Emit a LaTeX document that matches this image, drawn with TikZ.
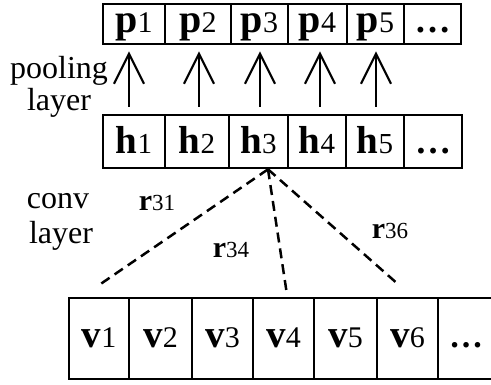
\documentclass[tikz,border=0pt]{standalone}
\usepackage{fontspec}
\setmainfont{Liberation Serif}
\usetikzlibrary{arrows.meta}

% bold symbol followed by a plain index, each at its own size
\newcommand\ent[4]{{\fontsize{#1pt}{#1pt}\selectfont\bfseries #3}{\fontsize{#2pt}{#2pt}\selectfont #4}}
\newcommand\pent[1]{\ent{40}{30}{p}{#1}}
\newcommand\hent[1]{\ent{39}{29}{h}{#1}}
\newcommand\vent[1]{\ent{39}{30}{v}{#1}}
\newcommand\rent[1]{\ent{30}{23}{r}{#1}}
\newcommand\moredots[1]{{\fontsize{#1pt}{#1pt}\selectfont\bfseries …}}

\tikzset{
  cell/.style={draw, line width=2.6pt, inner sep=0pt, anchor=center},
  prow/.style={cell, minimum height=40pt, text height=24pt, text depth=8pt},
  hrow/.style={cell, minimum height=53pt, text height=30pt, text depth=7pt},
  vrow/.style={cell, minimum height=81pt, text height=25pt, text depth=8pt},
  uparrow/.style={line width=2.2pt, -{Straight Barb[length=30pt, width=30pt, line width=2.2pt]}},
  conn/.style={line width=2.5pt, dash pattern=on 10pt off 6pt},
  side/.style={font=\fontsize{32pt}{32pt}\selectfont, anchor=base, inner sep=0pt},
  rlab/.style={anchor=base, inner sep=0pt},
}

\begin{document}
\begin{tikzpicture}[x=1pt, y=-1pt]
\useasboundingbox (0,0) rectangle (491,384);

% pooling outputs
\node[prow, minimum width=62pt] (p1) at (134,24)   {\pent{1}};
\node[prow, minimum width=66pt] (p2) at (198,24)   {\pent{2}};
\node[prow, minimum width=57pt] (p3) at (259.5,24) {\pent{3}};
\node[prow, minimum width=59pt] (p4) at (317.5,24) {\pent{4}};
\node[prow, minimum width=57pt] (p5) at (375.5,24) {\pent{5}};
\node[prow, minimum width=57pt] (p6) at (432.5,24) {\moredots{36}};

% convolution outputs
\node[hrow, minimum width=62pt] (h1) at (134,141.5)   {\hent{1}};
\node[hrow, minimum width=64pt] (h2) at (197,141.5)   {\hent{2}};
\node[hrow, minimum width=59pt] (h3) at (258.5,141.5) {\hent{3}};
\node[hrow, minimum width=58pt] (h4) at (317,141.5)   {\hent{4}};
\node[hrow, minimum width=58pt] (h5) at (375,141.5)   {\hent{5}};
\node[hrow, minimum width=58pt] (h6) at (433,141.5)   {\moredots{36}};

% input vectors
\node[vrow, minimum width=60pt] (v1) at (99,338.5)    {\vent{1}};
\node[vrow, minimum width=63pt] (v2) at (160.5,338.5) {\vent{2}};
\node[vrow, minimum width=61pt] (v3) at (222.5,338.5) {\vent{3}};
\node[vrow, minimum width=61pt] (v4) at (283.5,338.5) {\vent{4}};
\node[vrow, minimum width=63pt] (v5) at (345.5,338.5) {\vent{5}};
\node[vrow, minimum width=61pt] (v6) at (407.5,338.5) {\vent{6}};
\node[vrow, minimum width=56pt] (v7) at (466,338.5)   {\moredots{34}};

% pooling arrows
\draw[uparrow] ([xshift=-5pt,yshift=7pt]h1.north) -- ([xshift=-5pt,yshift=-6pt]p1.south);
\draw[uparrow] ([xshift=2pt,yshift=7pt]h2.north)  -- ([xshift=1pt,yshift=-6pt]p2.south);
\draw[uparrow] ([xshift=1.5pt,yshift=7pt]h3.north) -- ([xshift=0.5pt,yshift=-6pt]p3.south);
\draw[uparrow] ([xshift=3pt,yshift=7pt]h4.north)  -- ([xshift=2.5pt,yshift=-6pt]p4.south);
\draw[uparrow] ([xshift=1pt,yshift=7pt]h5.north)  -- ([xshift=0.5pt,yshift=-6pt]p5.south);

% receptive links of h3
\coordinate (src) at ([xshift=9.5pt]h3.south);
\draw[conn] (src) -- ([xshift=2pt,yshift=13pt]v1.north);
\draw[conn] (src) -- ([xshift=3.5pt,yshift=2pt]v4.north);
\draw[conn] (src) -- ([xshift=-10pt,yshift=13pt]v6.north);

% link weights
\node[rlab] (r31) at (157,210) {\rent{31}};
\node[rlab] (r34) at (231,257) {\rent{34}};
\node[rlab] (r36) at (390,238) {\rent{36}};

% layer names
\node[side] (pool1) at (59,78)  {pooling};
\node[side] (pool2) at (59,110) {layer};
\node[side] (conv1) at (58,208) {conv};
\node[side] (conv2) at (61,243) {layer};
\end{tikzpicture}
\end{document}
